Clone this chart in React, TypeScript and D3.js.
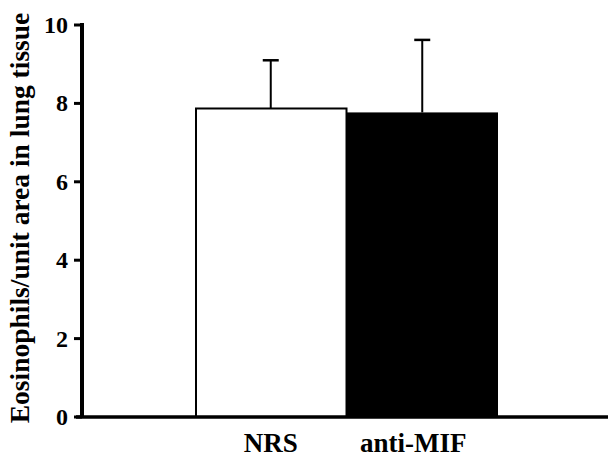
import React from "react";
import * as d3 from "d3";

const categories: string[] = ["NRS", "anti-MIF"];
const meanValues: number[] = [7.87, 7.77];
const errorValues: number[] = [1.23, 1.85];
const barFills: string[] = ["#ffffff", "#000000"];
const tickValues: number[] = [0, 2, 4, 6, 8, 10];
const yTitle = "Eosinophils/unit area in lung tissue";

const W = 608;
const H = 458;
const AXIS_X = 82;
const SERIF = "Liberation Serif, Tinos, Times New Roman, serif";

export default function App() {
  const y = d3.scaleLinear().domain([0, 10]).range([417, 25]);
  const x = d3.scaleBand().domain(categories).range([195, 498]).padding(0);
  const labelDx = (i: number) => (i === 1 ? -9 : 0);
  return (
    <svg width={W} height={H} viewBox={`0 0 ${W} ${H}`} style={{ position: "absolute", left: 0, top: 0, fontFamily: SERIF }}>
      <rect x={0} y={0} width={W} height={H} fill="#ffffff" />
      {categories.map((c, i) => {
        const x0 = x(c) as number;
        const bw = x.bandwidth();
        const cx = x0 + bw / 2;
        const top = y(meanValues[i]);
        const et = y(meanValues[i] + errorValues[i]);
        return (
          <g key={c}>
            <line x1={cx} x2={cx} y1={top} y2={et} stroke="#000" strokeWidth={2} />
            <line x1={cx - 8} x2={cx + 8} y1={et} y2={et} stroke="#000" strokeWidth={2.5} />
            <rect
              x={x0 + (i === 0 ? 1 : 0)}
              y={top}
              width={bw - (i === 0 ? 1 : 0)}
              height={y(0) - top}
              fill={barFills[i]}
              stroke="#000"
              strokeWidth={i === 0 ? 2 : 0}
            />
          </g>
        );
      })}
      <line x1={AXIS_X} x2={AXIS_X} y1={y(10) - 2} y2={y(0)} stroke="#000" strokeWidth={4} />
      <line x1={76} x2={W} y1={y(0)} y2={y(0)} stroke="#000" strokeWidth={3.5} />
      {tickValues.map((t) => (
        <line key={"t" + t} x1={74} x2={AXIS_X} y1={y(t)} y2={y(t)} stroke="#000" strokeWidth={3} />
      ))}
      {tickValues.map((t) => (
        <text
          key={"l" + t}
          x={68}
          y={y(t) + 8}
          textAnchor="end"
          fontSize={24}
          fontWeight="bold"
          style={{ fontFamily: SERIF }}
        >
          {String(t)}
        </text>
      ))}
      {categories.map((c, i) => (
        <text
          key={"c" + c}
          x={(x(c) as number) + x.bandwidth() / 2 + labelDx(i)}
          y={452}
          textAnchor="middle"
          fontSize={27}
          fontWeight="bold"
          style={{ fontFamily: SERIF }}
        >
          {c}
        </text>
      ))}
      <text
        x={0}
        y={0}
        transform="translate(29, 218) rotate(-90)"
        textAnchor="middle"
        fontSize={27.5}
        fontWeight="bold"
        style={{ fontFamily: SERIF }}
      >
        {yTitle}
      </text>
    </svg>
  );
}
